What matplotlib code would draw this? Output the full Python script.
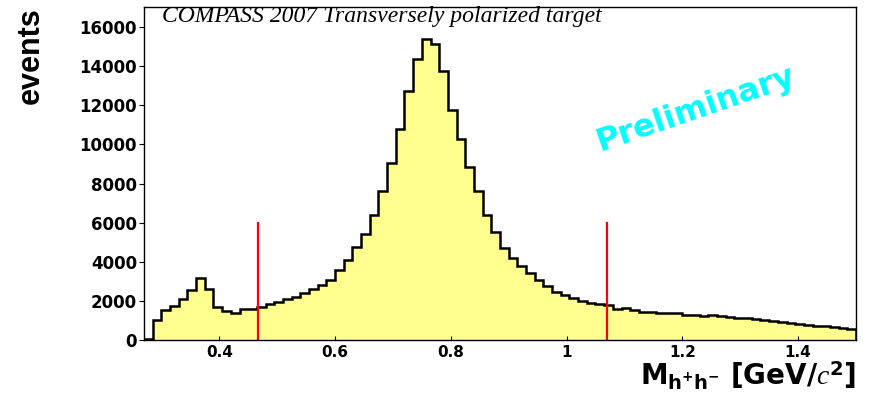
import matplotlib
matplotlib.use("Agg")
import matplotlib.pyplot as plt
import numpy as np

# histogram of h+h- invariant mass, bins of 0.015 GeV/c^2 starting at 0.27
bin_lo = 0.27
bin_width = 0.015
counts = [60, 1043, 1552, 1770, 2112, 2550, 3190, 2620, 1721, 1510,
          1416, 1620, 1620, 1689, 1842, 1976, 2105, 2225, 2420, 2630,
          2840, 3100, 3570, 4100, 4765, 5410, 6395, 7624, 9048, 10779,
          12697, 14341, 15379, 15124, 13715, 11730, 10260, 8845, 7608, 6400,
          5555, 4710, 4205, 3808, 3420, 3079, 2774, 2484, 2300, 2145,
          2000, 1910, 1845, 1800, 1600, 1650, 1540, 1460, 1430, 1400,
          1390, 1380, 1310, 1290, 1230, 1290, 1260, 1220, 1170, 1130,
          1080, 1040, 1000, 950, 900, 840, 800, 760, 730, 690,
          630, 580]
cut_lines = [0.467, 1.07]
cut_height = 6000
xticks = [0.4, 0.6, 0.8, 1.0, 1.2, 1.4]
xtick_labels = ['0.4', '0.6', '0.8', '1', '1.2', '1.4']
yticks = [0, 2000, 4000, 6000, 8000, 10000, 12000, 14000, 16000]

plt.rcParams['font.family'] = ['DejaVu Sans']
plt.rcParams['mathtext.fontset'] = 'custom'
plt.rcParams['mathtext.rm'] = 'DejaVu Sans:bold'
plt.rcParams['mathtext.bf'] = 'DejaVu Sans:bold'
plt.rcParams['mathtext.it'] = 'Liberation Serif:italic'

edges = bin_lo + bin_width * np.arange(len(counts) + 1)

fig = plt.figure(figsize=(8.69, 3.98), dpi=100)
ax = fig.add_axes([0.1657, 0.1445, 0.8193, 0.838])

ax.stairs(counts, edges, fill=True, color='#ffff90')
ax.stairs(counts, edges, color='black', lw=1.8)
for xc in cut_lines:
    ax.plot([xc, xc], [0, cut_height], color='red', lw=1.6)

ax.set_xlim(0.27, 1.5)
ax.set_ylim(0, 17000)
ax.set_xticks(xticks)
ax.set_xticklabels(xtick_labels, fontweight='bold', fontsize=11)
ax.set_yticks(yticks)
ax.set_yticklabels([str(v) for v in yticks], fontweight='bold', fontsize=12)
ax.tick_params(axis='x', direction='in', length=3, pad=3)
ax.tick_params(axis='y', direction='out', length=3.5, pad=1.5)
for s in ax.spines.values():
    s.set_linewidth(1.0)

ax.set_ylabel('events', loc='top', fontsize=22, fontweight='bold',
              family='Liberation Sans', labelpad=24)
ax.set_xlabel(r'$\mathbf{M_{h^{+}h^{-}}}$ [GeV/$c^{\mathbf{2}}$]',
              loc='right', fontsize=20, fontweight='bold', labelpad=0)

ax.text(0.025, 0.956, 'COMPASS 2007 Transversely polarized target',
        transform=ax.transAxes, family='Liberation Serif', style='italic',
        fontsize=17, va='baseline', ha='left')
ax.text(1.222, 11800, 'Preliminary', color='#00ffff', fontsize=23,
        fontweight='bold', rotation=19, rotation_mode='anchor',
        ha='center', va='center')

fig.savefig('out.png', dpi=100)
